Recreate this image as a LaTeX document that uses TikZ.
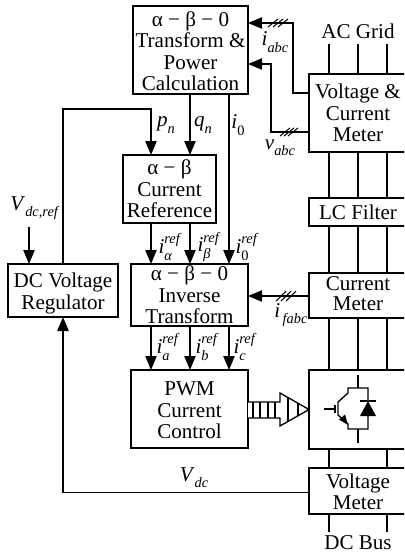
\documentclass[tikz,border=0pt]{standalone}
\usepackage{fontspec}
\setmainfont{Liberation Serif}
\usetikzlibrary{arrows.meta,calc}
\newcommand\subsup[3]{\textit{#1}\rlap{\raisebox{-0.34em}{\fontsize{10.8}{11}\selectfont\textit{#2}}}\raisebox{0.46em}{\fontsize{10.8}{11}\selectfont\textit{#3}}}
\newcommand\subonly[2]{\textit{#1}\raisebox{-0.3em}{\fontsize{10.8}{11}\selectfont\textit{#2}}}
\newcommand\boxnode[7][0]{\node[blockbox,minimum width={(#5-#3)*0.75pt},minimum height={(#6-#4)*0.75pt},text height=,yshift=0pt] (#2) at ({(#3+#5)/2},{(#4+#6)/2}) {};
  \node[boxtext] at ({(#3+#5)/2},{(#4+#6)/2+#1}) {#7};}
\tikzset{
  x=0.75pt,y=-0.75pt,
  wire/.style={line width=1pt,draw=black},
  sig/.style={wire,-{Triangle[length=10.5pt,width=8.5pt]}},
  blockbox/.style={draw=black,line width=1pt,fill=white,inner sep=0pt,outer sep=0pt},
  boxtext/.style={inner sep=0pt,align=center,font=\fontsize{15.8}{16.1}\selectfont},
  lab/.style={inner sep=0pt,font=\fontsize{15.8}{16.1}\selectfont},
  tick/.style={line width=0.8pt,draw=black},
}
\begin{document}
\begin{tikzpicture}
\useasboundingbox (0,0) rectangle (404,557);
\clip (0,0) rectangle (404,557);
% column and bus positions
\coordinate (xp) at (151,0);
\coordinate (xq) at (190,0);
\coordinate (xz) at (229,0);
\coordinate (xr) at (63,0);
\coordinate (bA) at (329,0);
\coordinate (bB) at (358,0);
\coordinate (bC) at (387,0);
\coordinate (acend) at (0,44);
\coordinate (dcend) at (0,532);
\coordinate (yi) at (0,93);
\coordinate (yv) at (0,132);
\coordinate (yia) at (0,23);
\coordinate (yva) at (0,64);
\coordinate (yf) at (0,296);
\coordinate (yd) at (0,492.5);
\coordinate (ypn) at (0,109);
\coordinate (turni) at (293,23);
\coordinate (turnv) at (271,64);
\coordinate (vrefstart) at (29,227);

% blocks
\boxnode[1]{top}{133}{6}{248}{94}{α − β − 0\\Transform \&\\Power\\Calculation}
\boxnode{cref}{123}{155}{216}{223}{α − β\\Current\\Reference}
\boxnode{inv}{131}{264}{248}{326}{α − β − 0\\Inverse\\Transform}
\boxnode[3]{reg}{8}{264}{118}{317}{DC Voltage\\Regulator}
\boxnode[1.5]{pwm}{131}{370}{248}{448}{PWM\\Current\\Control}
\boxnode{vcm}{309}{74}{407}{152}{Voltage \&\\Current\\Meter}
\boxnode{lcf}{309}{198}{407}{226}{LC Filter}
\boxnode[-2]{cmt}{309}{273}{407}{318}{Current\\[-0.6pt]Meter}
\boxnode[1]{vmt}{309}{468}{407}{514}{Voltage\\Meter}
\node[blockbox,minimum width=73.5pt,minimum height=59.25pt] (conv) at (358,409.5) {};

% text labels
\node[lab] (acg) at (358,31) {AC Grid};
\node[lab] (dcb) at (358,543) {DC Bus};
\node[lab] (liabc) at (275,42) {\subonly{i}{abc}};
\node[lab] (lvabc) at (280,148) {\subonly{v}{abc}};
\node[lab] (lpn) at (166,125) {\subonly{p}{n}};
\node[lab] (lqn) at (203,125) {\subonly{q}{n}};
\node[lab] (liz) at (238,125) {\textit{i}\raisebox{-0.3em}{\fontsize{10.8}{11}\selectfont 0}};
\node[lab] (lvref) at (35,208) {\subonly{V}{dc,ref}};
\node[lab] (lia) at (170,247) {\subsup{i}{α}{ref}};
\node[lab] (lib) at (209,247) {\subsup{i}{β}{ref}};
\node[lab] (liz2) at (247,247) {\textit{i}\rlap{\raisebox{-0.34em}{\fontsize{10.8}{11}\selectfont 0}}\raisebox{0.46em}{\fontsize{10.8}{11}\selectfont\textit{ref}}};
\node[lab] (lra) at (168,347) {\subsup{i}{a}{ref}};
\node[lab] (lrb) at (207,347) {\subsup{i}{b}{ref}};
\node[lab] (lrc) at (245,347) {\subsup{i}{c}{ref}};
\node[lab] (lif) at (291,315) {\subonly{i}{\,fabc}};
\node[lab] (lvd) at (194,478) {\subonly{V}{dc}};

% signal connectors
\draw[sig] (reg.north -| xr) -- (xr |- ypn) -- (xp |- ypn) -- (cref.north -| xp);
\draw[sig] (top.south -| xq) -- (cref.north -| xq);
\draw[sig] (top.south -| xz) -- (inv.north -| xz);
\draw[sig] (cref.south -| xp) -- (inv.north -| xp);
\draw[sig] (cref.south -| xq) -- (inv.north -| xq);
\draw[sig] (inv.south -| xp) -- (pwm.north -| xp);
\draw[sig] (inv.south -| xq) -- (pwm.north -| xq);
\draw[sig] (inv.south -| xz) -- (pwm.north -| xz);
\draw[sig] (vrefstart) -- (reg.north -| vrefstart);
\draw[sig] (vmt.west |- yd) -- (xr |- yd) -- (reg.south -| xr);
\draw[sig] (cmt.west |- yf) -- (inv.east |- yf);
\draw[sig] (vcm.west |- yi) -- (turni |- yi) -- (turni) -- (top.east |- yia);
\draw[sig] (vcm.west |- yv) -- (turnv |- yv) -- (turnv) -- (top.east |- yva);

% three-phase ticks
\foreach \c in {273,278,283} \draw[tick] ({\c-5},27) -- ({\c+5},19);
\foreach \c in {285,289,293} \draw[tick] ({\c-5},136) -- ({\c+5},128);
\foreach \c in {281,286,291} \draw[tick] ({\c-5},301) -- ({\c+5},291);

% AC and DC bus
\foreach \b in {bA,bB,bC} {
  \draw[wire] (\b |- acend) -- (vcm.north -| \b);
  \draw[wire] (vcm.south -| \b) -- (lcf.north -| \b);
  \draw[wire] (lcf.south -| \b) -- (cmt.north -| \b);
  \draw[wire] (cmt.south -| \b) -- (conv.north -| \b);
}
\foreach \b in {bA,bC} {
  \draw[wire] (conv.south -| \b) -- (vmt.north -| \b);
  \draw[wire] (vmt.south -| \b) -- (\b |- dcend);
}

% hollow striped gate-signal arrow
\draw[line width=1pt,fill=white] (pwm.east |- 0,402) -- (280,402) -- (280,393) -- (309,409.5) -- (280,426) -- (280,418) -- (pwm.east |- 0,418);
\foreach \s in {253,260,268,275} \draw[line width=1pt] (\s,402) -- (\s,418);
\draw[line width=1pt] (288,397.5) -- (288,421.5);
\draw[line width=1pt] (298,403.2) -- (298,415.8);

% switch symbol
\draw[wire] (358,375) -- (358,388);
\draw[wire] (358,429) -- (358,443);
\draw[wire] (338,402) -- (348,393) -- (348,388) -- (368,388) -- (368,429) -- (348,429) -- (348,424) -- (338,415) -- cycle;
\draw[wire] (324,409) -- (335,409);
\draw[wire] (335,404.5) -- (335,413);
\fill (348,425) -- (339,419.5) -- (345,414.5) -- cycle;
\draw[wire] (360,401) -- (376,401);
\fill (368,401) -- (376,416) -- (360,416) -- cycle;
\end{tikzpicture}
\end{document}
